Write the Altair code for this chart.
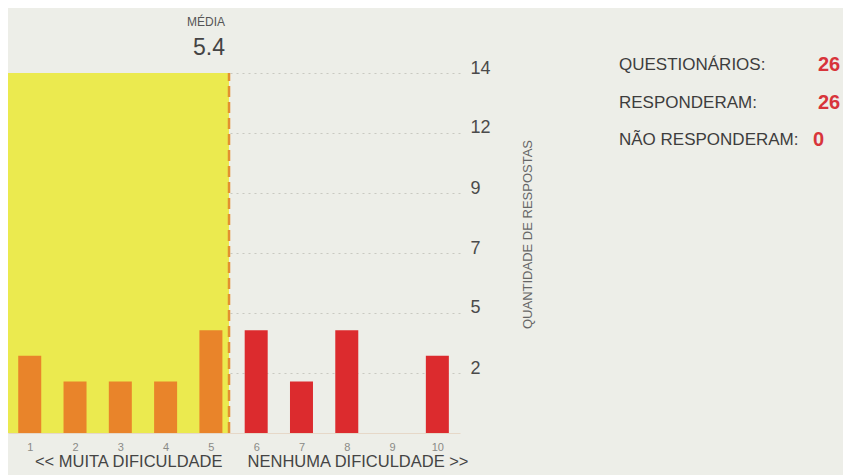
import altair as alt
import pandas as pd

# ---- data ----
scores = [1, 2, 3, 4, 5, 6, 7, 8, 9, 10]
counts = [3, 2, 2, 2, 4, 4, 2, 4, 0, 3]
mean_value = 5.4
y_tick_values = [2.3333, 4.6667, 7.0, 9.3333, 11.6667, 14.0]  # shown rounded: 2 5 7 9 12 14
y_max = 14
x_min, x_max = 0.52, 10.5
stat_labels = ["QUESTIONÁRIOS:", "RESPONDERAM:", "NÃO RESPONDERAM:"]
stat_values = ["26", "26", "0"]
left_caption = "<< MUITA DIFICULDADE"
right_caption = "NENHUMA DIFICULDADE >>"

FONT = "Liberation Sans"
BG = "#EDEEE8"
YELLOW = "#EBEA4F"
ORANGE = "#E9842A"
RED = "#DC2B2E"
DASH = "#E39030"

bars_df = pd.DataFrame({
    "score": scores,
    "count": counts,
    "group": ["baixo" if s <= 5 else "alto" for s in scores],
})
band_df = pd.DataFrame({"score": [x_min], "x1": [mean_value], "count": [0], "y1": [y_max]})
mean_df = pd.DataFrame({"score": [mean_value], "count": [0], "y1": [y_max],
                        "lbl": ["MÉDIA"], "val": [f"{mean_value:.1f}"]})

xscale = alt.Scale(domain=[x_min, x_max], nice=False, zero=False, padding=0)
yscale = alt.Scale(domain=[0, y_max], nice=False, zero=True, padding=0)

xaxis = alt.Axis(values=scores, format="d", title=None, grid=False, ticks=False,
                 labelFontSize=11, labelColor="#8a8a86", labelPadding=8,
                 labelFont=FONT, domain=True, domainColor="#e6d8c8",
                 labelFlush=False)
yaxis = alt.Axis(orient="right", values=y_tick_values, format=".0f",
                 grid=True, gridDash=[2, 4], gridColor="#c8c9c1", gridWidth=1,
                 ticks=False, domain=False, labelPadding=10,
                 labelFontSize=18, labelColor="#4a4a4a", labelFont=FONT,
                 labelBaseline="alphabetic", labelAlign="left",
                 title="QUANTIDADE DE RESPOSTAS", titleAngle=270,
                 titleX=67, titleY=161, titleFontSize=13,
                 titleFontWeight="normal", titleColor="#666666",
                 titleFont=FONT, titleAlign="center", titleBaseline="middle")

X = alt.X("score:Q", scale=xscale, axis=xaxis)
Y = alt.Y("count:Q", scale=yscale, axis=yaxis)

band = alt.Chart(band_df).mark_rect(color=YELLOW).encode(
    x=X, x2="x1:Q", y=Y, y2="y1:Q",
)

bars = alt.Chart(bars_df).mark_bar(size=23).encode(
    x=X, y=Y,
    color=alt.Color("group:N", scale=alt.Scale(domain=["baixo", "alto"], range=[ORANGE, RED]),
                    legend=None),
)

rule = alt.Chart(mean_df).mark_rule(color=DASH, strokeDash=[11, 5], strokeWidth=2.5).encode(
    x=X, y=Y, y2="y1:Q",
)

media_lbl = alt.Chart(mean_df).mark_text(
    align="right", baseline="alphabetic", font=FONT, fontSize=12, color="#555555", dx=-4
).encode(x=X, y=alt.value(-47), text="lbl:N")

media_val = alt.Chart(mean_df).mark_text(
    align="right", baseline="alphabetic", font=FONT, fontSize=23, color="#444444", dx=-4
).encode(x=X, y=alt.value(-18), text="val:N")

caps_df = pd.DataFrame({"score": [5.5], "l": [left_caption], "r": [right_caption]})
cap_left = alt.Chart(caps_df).mark_text(
    align="right", baseline="alphabetic", font=FONT, fontSize=16.5, color="#444444", dx=-11
).encode(x=X, y=alt.value(394), text="l:N")
cap_right = alt.Chart(caps_df).mark_text(
    align="left", baseline="alphabetic", font=FONT, fontSize=16.5, color="#444444", dx=14
).encode(x=X, y=alt.value(394), text="r:N")

stat_layers = []
row_y = [-3, 35, 72]
val_x = [810, 810, 805]
for lbl, val, yy, vx in zip(stat_labels, stat_values, row_y, val_x):
    d = pd.DataFrame({"t": [lbl], "v": [val]})
    stat_layers.append(alt.Chart(d).mark_text(
        align="left", baseline="alphabetic", font=FONT, fontSize=17, color="#3d3d3d"
    ).encode(x=alt.value(611), y=alt.value(yy), text="t:N"))
    stat_layers.append(alt.Chart(d).mark_text(
        align="left", baseline="alphabetic", font=FONT, fontSize=20, fontWeight="bold",
        color="#D8343A"
    ).encode(x=alt.value(vx), y=alt.value(yy + 1), text="v:N"))

chart = alt.layer(
    band, bars, rule, media_lbl, media_val, cap_left, cap_right, *stat_layers
).properties(
    width=452, height=360,
    autosize=alt.AutoSizeParams(type="none"),
    padding={"left": 0, "top": 65, "right": 383, "bottom": 42},
    background=BG,
).configure_view(stroke=None)

chart.save("out.html", embed_options={"renderer": "svg", "actions": False})
